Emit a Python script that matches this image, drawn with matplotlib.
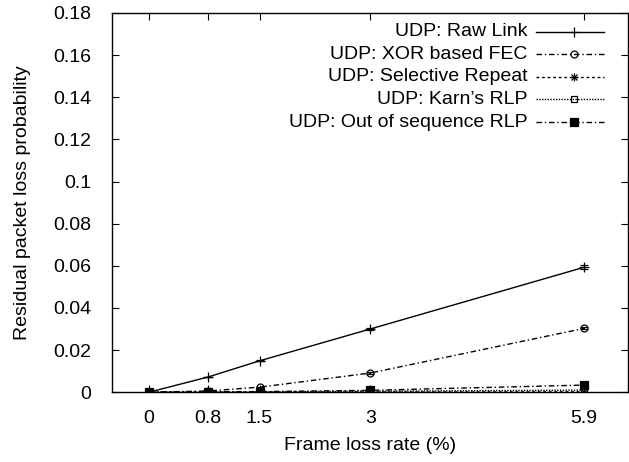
import matplotlib
matplotlib.use("Agg")
import matplotlib.pyplot as plt
from matplotlib.lines import Line2D

plt.rcParams["font.family"] = ["Liberation Sans", "DejaVu Sans"]
plt.rcParams["font.size"] = 14

# frame loss rate (%)
loss_rate = [0, 0.8, 1.5, 3, 5.9]

raw_link = [0.0, 0.0072, 0.0149, 0.0300, 0.0593]
raw_link_err = [0.0, 0.0002, 0.0003, 0.0007, 0.0009]
xor_fec = [0.0, 0.0006, 0.0024, 0.0091, 0.0303]
xor_fec_err = [0.0, 0.0001, 0.0002, 0.0003, 0.0005]
sel_repeat = [0.0, 0.0, 0.0, 0.0001, 0.0002]
karn_rlp = [0.0, 0.0, 0.0001, 0.0005, 0.0010]
oos_rlp = [0.0, 0.0002, 0.0003, 0.0009, 0.0034]

labels = ["UDP: Raw Link", "UDP: XOR based FEC", "UDP: Selective Repeat",
          "UDP: Karn\u2019s RLP", "UDP: Out of sequence RLP"]

styles = [
    dict(ls="-", marker="+", ms=7, mfc="none"),
    dict(ls=(0, (4, 2, 1, 2)), marker="o", ms=5, mfc="none"),
    dict(ls=(0, (2, 2)), marker="x", ms=5, mfc="none"),
    dict(ls=(0, (1, 1)), marker="s", ms=5, mfc="none"),
    dict(ls=(0, (4, 2, 1, 2)), marker="s", ms=6, mfc="black"),
]

fig = plt.figure(figsize=(6.29, 4.62), dpi=100)
ax = fig.add_axes([0.178, 0.151, 0.821, 0.821])

series = [raw_link, xor_fec, sel_repeat, karn_rlp, oos_rlp]
errs = [raw_link_err, xor_fec_err, None, None, None]
for y, e, st in zip(series, errs, styles):
    ax.plot(loss_rate, y, color="black", lw=1, mew=0.9, **st)
    if e is not None:
        ax.errorbar(loss_rate, y, yerr=e, fmt="none", ecolor="black",
                    elinewidth=0.9, capsize=3, capthick=0.9)
# star markers drawn over the cross for selective repeat
ax.plot(loss_rate, sel_repeat, ls="none", marker="+", ms=6, color="black", mew=0.9)

ax.set_xlim(-0.5, 6.5)
ax.set_ylim(0, 0.18)
ax.set_xticks(loss_rate)
ax.set_xticklabels(["0", "0.8", "1.5", "3", "5.9"])
ax.set_yticks([0, 0.02, 0.04, 0.06, 0.08, 0.1, 0.12, 0.14, 0.16, 0.18])
ax.set_yticklabels(["0", "0.02", "0.04", "0.06", "0.08", "0.1", "0.12",
                    "0.14", "0.16", "0.18"])
ax.tick_params(direction="in", top=True, right=True, length=5, width=0.8,
               labelsize=14)
ax.tick_params(axis="x", pad=13)
ax.tick_params(axis="y", pad=15)
for sp in ax.spines.values():
    sp.set_linewidth(1)

ax.set_xlabel("Frame loss rate (%)", fontsize=14, labelpad=7)
ax.set_ylabel("Residual packet loss probability", fontsize=14, labelpad=16)

# gnuplot-style key: right-justified text, sample line on the right
row0 = 0.950
drow = 0.0594
for i, (lab, st) in enumerate(zip(labels, styles)):
    yk = row0 - i * drow
    ax.text(0.805, yk, lab, transform=ax.transAxes, ha="right", va="center",
            fontsize=14)
    ax.add_line(Line2D([0.822, 0.952], [yk, yk], transform=ax.transAxes,
                       color="black", lw=1, ls=st["ls"]))
    ax.add_line(Line2D([0.895], [yk], transform=ax.transAxes, color="black",
                       marker=st["marker"], ms=st["ms"], mfc=st["mfc"],
                       mew=0.9, ls="none"))
    if i == 2:
        ax.add_line(Line2D([0.895], [yk], transform=ax.transAxes,
                           color="black", marker="+", ms=6, mew=0.9, ls="none"))

fig.savefig("out.png", dpi=100)
